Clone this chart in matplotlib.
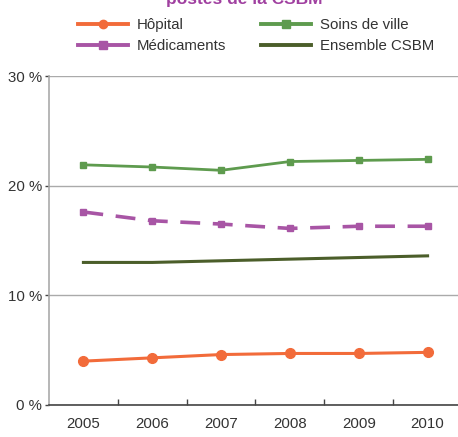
import matplotlib
matplotlib.use("Agg")
import matplotlib.pyplot as plt
from matplotlib.lines import Line2D

years = ["2005", "2006", "2007", "2008", "2009", "2010"]
hopital = [4.0, 4.3, 4.6, 4.7, 4.7, 4.8]
soins_ville = [21.9, 21.7, 21.4, 22.2, 22.3, 22.4]
medicaments = [17.6, 16.8, 16.5, 16.1, 16.3, 16.3]
ensemble = [13.0, 13.0, 13.15, 13.3, 13.45, 13.6]
yticks = [0, 10, 20, 30]
ytick_labels = ["0 %", "10 %", "20 %", "30 %"]

c_hop = "#F26B3A"
c_soins = "#5E9B4E"
c_med = "#A855A5"
c_ens = "#4B5E2A"

plt.rcParams["font.family"] = ["Liberation Sans", "DejaVu Sans"]

W, H = 458, 437
fig = plt.figure(figsize=(W / 100, H / 100), dpi=100)
ax = fig.add_axes([49 / W, 32 / H, 413 / W, 329 / H])

x = list(range(len(years)))
ax.plot(x, hopital, color=c_hop, lw=2.2, marker="o", ms=7, zorder=5)
ax.plot(x, soins_ville, color=c_soins, lw=2.0, marker="s", ms=5, zorder=5)
ax.plot(x, medicaments, color=c_med, lw=2.6, ls=(0, (5.5, 3.5)), marker="s", ms=4.5, zorder=5)
ax.plot(x, ensemble, color=c_ens, lw=2.2, zorder=5)

ax.set_xlim(-0.5, 5.5)
ax.set_ylim(0, 30)
ax.set_yticks(yticks)
ax.set_yticklabels(ytick_labels)
ax.set_xticks(x)
ax.set_xticklabels(years)
ax.set_xticks([i + 0.5 for i in range(5)], minor=True)
ax.tick_params(axis="x", which="major", length=0, pad=9, labelsize=10.8, colors="#333333")
ax.tick_params(axis="x", which="minor", length=4, direction="in", color="#444444", width=1)
ax.tick_params(axis="y", length=3, width=1, color="#444444", labelsize=10.8, labelcolor="#333333", pad=2)
ax.grid(axis="y", color="#aaaaaa", lw=1)
ax.set_axisbelow(True)
for s in ["top", "right"]:
    ax.spines[s].set_visible(False)
ax.spines["left"].set_color("#aaaaaa")
ax.spines["left"].set_linewidth(1.2)
ax.spines["bottom"].set_color("#444444")
ax.spines["bottom"].set_linewidth(1.2)

handles = [
    Line2D([], [], color=c_hop, lw=2.8, marker="o", ms=6),
    Line2D([], [], color=c_med, lw=2.8, marker="s", ms=6),
    Line2D([], [], color=c_soins, lw=2.8, marker="s", ms=6),
    Line2D([], [], color=c_ens, lw=2.8),
]
labels = ["Hôpital", "Médicaments", "Soins de ville", "Ensemble CSBM"]
leg = fig.legend(handles, labels, ncol=2, frameon=False, fontsize=10.8,
           loc="upper left", bbox_to_anchor=(78 / W, 1 - 18 / H),
           handlelength=3.3, handletextpad=0.65, columnspacing=2.3,
           labelspacing=0.45, borderpad=0, borderaxespad=0)
for t in leg.get_texts():
    t.set_color("#333333")

fig.text(244 / W, 1 - 4 / H, "postes de la CSBM", color="#A040A0",
         fontsize=12.5, fontweight="bold", ha="center", va="baseline")

fig.savefig("out.png", dpi=100)
